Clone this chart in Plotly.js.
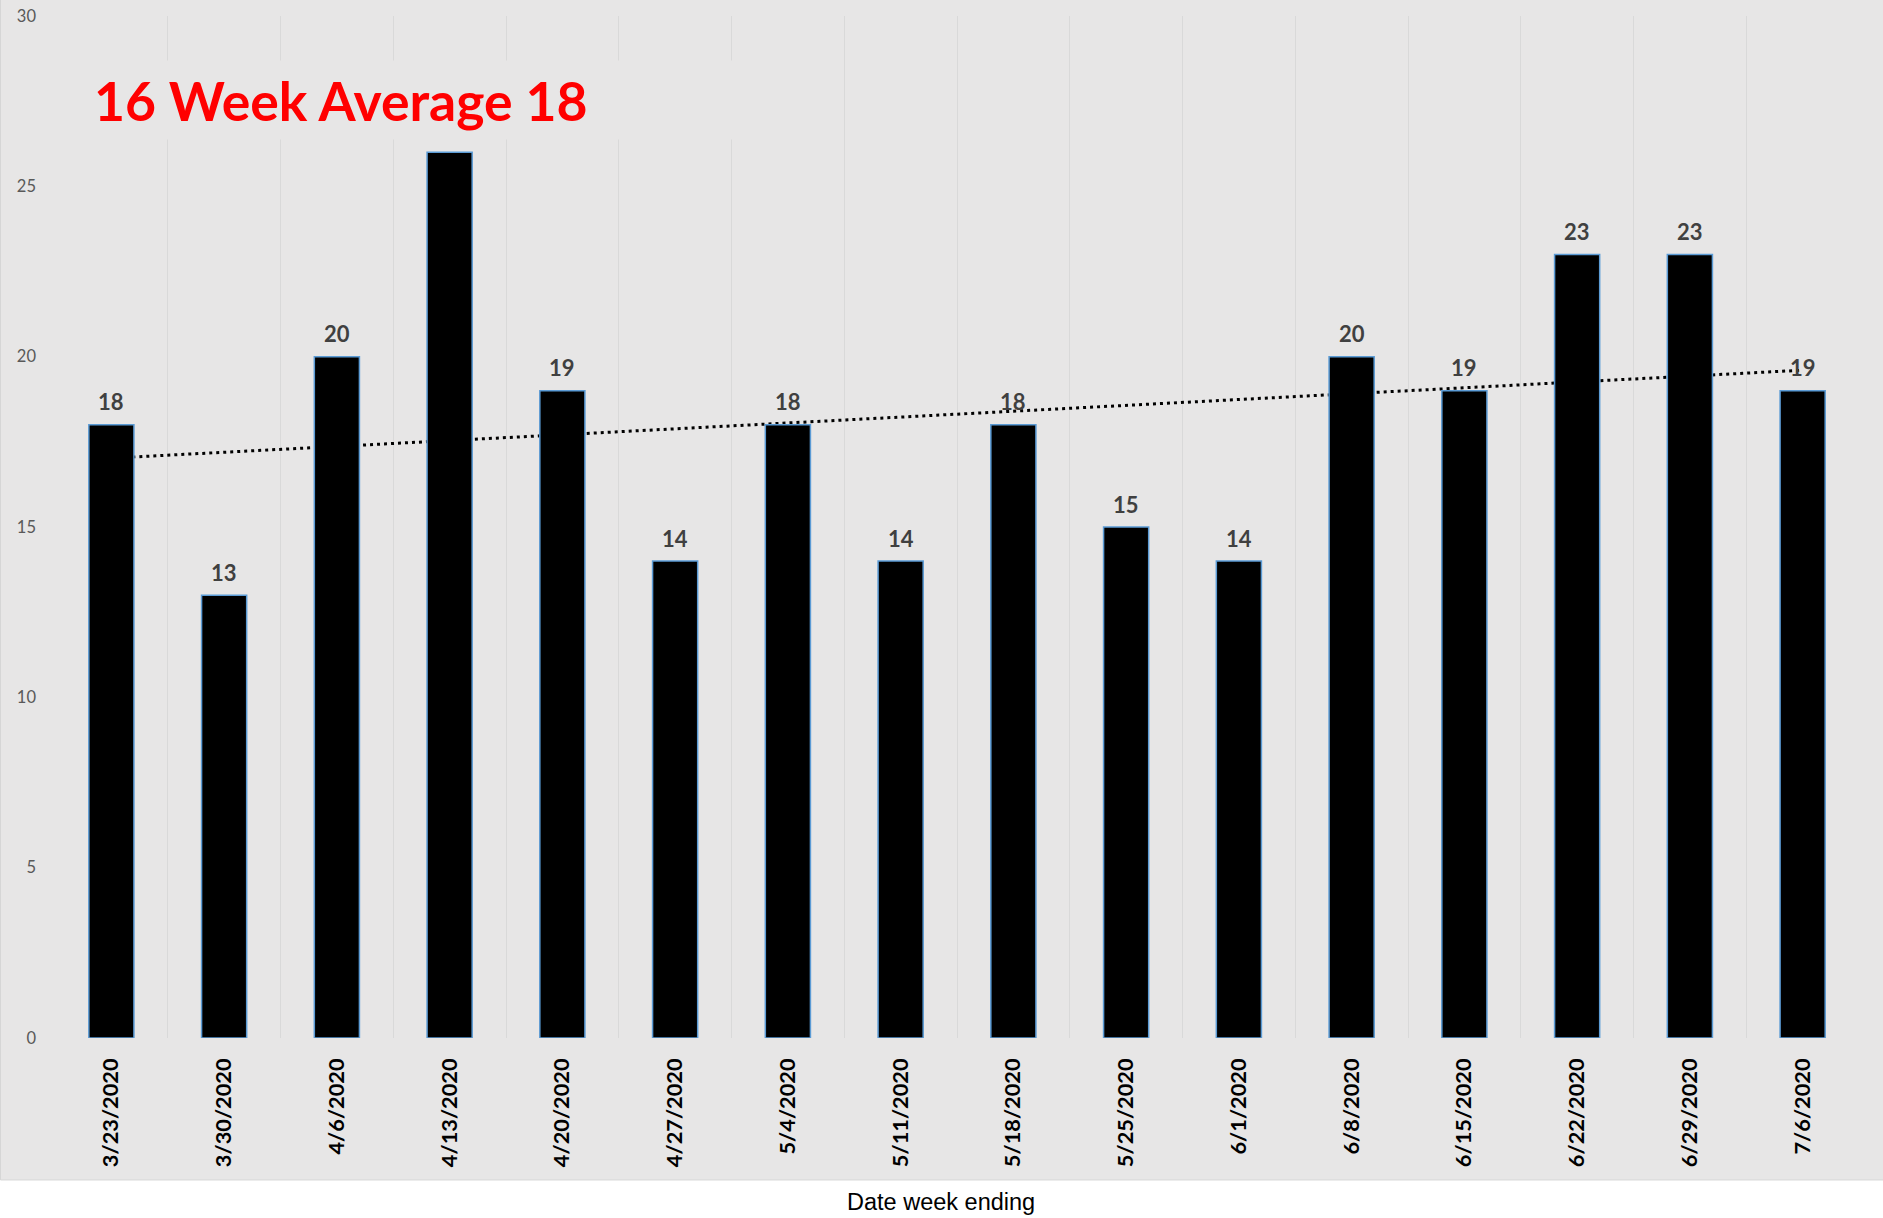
<!DOCTYPE html>
<html>
<head>
<meta charset="utf-8">
<script src="https://cdn.plot.ly/plotly-3.0.1.min.js"></script>
<style>html,body{margin:0;padding:0;background:#fff;}#chart{width:1883px;height:1218px;}</style>
</head>
<body>
<div id="chart"></div>
<script>
// ---- data ----
const categories = ['3/23/2020','3/30/2020','4/6/2020','4/13/2020','4/20/2020','4/27/2020','5/4/2020','5/11/2020','5/18/2020','5/25/2020','6/1/2020','6/8/2020','6/15/2020','6/22/2020','6/29/2020','7/6/2020'];
const values = [18,13,20,26,19,14,18,14,18,15,14,20,19,23,23,19];
const yTicks = [0,5,10,15,20,25,30];
const chartTitle = '16 Week Average 18';
const xTitle = 'Date week ending';
// in the original, the data label of this bar is hidden behind the title box
const hiddenLabelCats = ['4/13/2020'];

// linear (least squares) trendline computed from the values, like Excel's trendline
const n = values.length;
const xs = values.map((v,i)=>i+1);
const mx = xs.reduce((a,b)=>a+b,0)/n;
const my = values.reduce((a,b)=>a+b,0)/n;
let sxy=0, sxx=0;
for (let i=0;i<n;i++){ sxy += (xs[i]-mx)*(values[i]-my); sxx += (xs[i]-mx)*(xs[i]-mx); }
const slope = sxy/sxx, icpt = my - slope*mx;
const trend = xs.map(x=>icpt+slope*x);

const bg = '#e7e6e6';

const traces = [
  { type:'scatter', mode:'lines', x:categories, y:trend, xaxis:'x', yaxis:'y',
    line:{color:'#000000', width:3, dash:'3px,4px'}, hoverinfo:'skip' },
  { type:'bar', x:categories, y:values, xaxis:'x2', yaxis:'y2',
    marker:{color:'#000000', line:{color:'#5b9bd5', width:1.5}}, hoverinfo:'x+y' }
];

const labelAnn = categories
  .map((c,i)=>({c:c, v:values[i]}))
  .filter(d=>hiddenLabelCats.indexOf(d.c) < 0)
  .map(d=>({
    x:d.c, y:d.v, xref:'x', yref:'y', text:String(d.v), showarrow:false,
    yanchor:'bottom', xanchor:'center', yshift:7.5,
    font:{family:'Lato', size:22, color:'#404040', weight:'bold'}
  }));

const layout = {
  width:1883, height:1218,
  margin:{l:55, r:24, t:16, b:180, pad:0},
  paper_bgcolor:'#ffffff', plot_bgcolor:'rgba(0,0,0,0)',
  showlegend:false, bargap:0.6,
  xaxis:{type:'category', range:[-0.5,15.5], tickson:'boundaries', showgrid:true,
    gridcolor:'#d9d9d9', gridwidth:1, ticks:'', tickangle:-90, showline:false, zeroline:false,
    ticklabelstandoff:15, automargin:false,
    tickfont:{family:'Lato', size:21.8, color:'#000000', weight:'bold'}},
  yaxis:{range:[0,30], tickvals:yTicks, showgrid:false, zeroline:false, ticks:'', showline:false,
    ticklabelstandoff:18, automargin:false,
    tickfont:{family:'Lato', size:16.5, color:'#595959'}},
  xaxis2:{type:'category', overlaying:'x', anchor:'y2', range:[-0.5,15.5], visible:false},
  yaxis2:{overlaying:'y', anchor:'x2', range:[0,30], visible:false},
  shapes:[
    {type:'rect', xref:'paper', yref:'paper', x0:-0.0302, x1:1.02, y0:-0.1389, y1:1.02,
     fillcolor:bg, line:{color:'#d6d6d6', width:1}, layer:'below'}
  ],
  annotations: labelAnn.concat([
    {xref:'paper', yref:'paper', x:0.4914, y:-0.1605, xanchor:'center', yanchor:'middle',
     showarrow:false, text:xTitle,
     font:{family:'Liberation Sans, Arial', size:23.5, color:'#000000'}},
    {xref:'paper', yref:'paper', x:0.0211, y:0.957, xanchor:'left', yanchor:'top',
     width:700, height:78, align:'left', valign:'middle', borderpad:0, bgcolor:bg,
     showarrow:false, text:chartTitle,
     font:{family:'Lato', size:53.5, color:'#ff0000', weight:'bold'}}
  ])
};

Plotly.newPlot('chart', traces, layout, {displayModeBar:false, staticPlot:true});
</script>
</body>
</html>
